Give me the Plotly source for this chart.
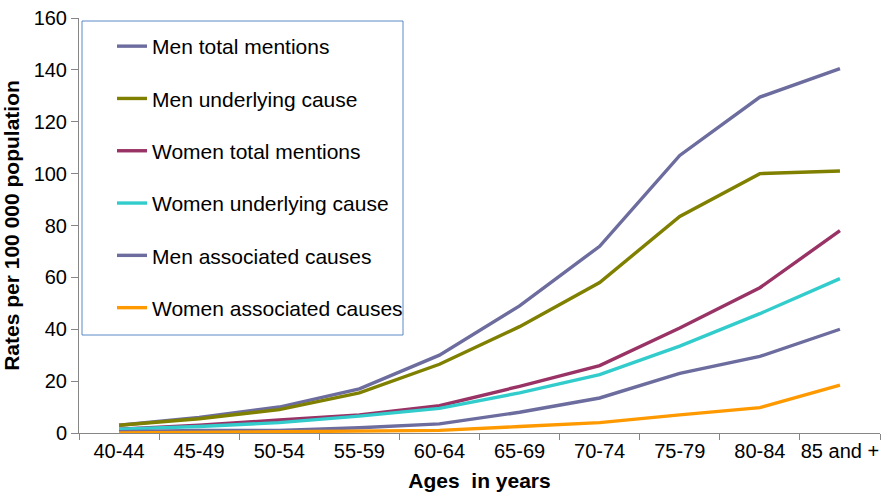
import plotly.graph_objects as go

ages = ["40-44", "45-49", "50-54", "55-59", "60-64", "65-69", "70-74", "75-79", "80-84", "85 and +"]

men_total = [3, 6, 10, 17, 30, 49, 72, 107, 129.5, 140.5]
men_underlying = [3, 5.5, 9, 15.5, 26.5, 41, 58, 83.5, 100, 101]
women_total = [1.5, 3, 5, 7, 10.5, 18, 26, 40.5, 56, 78]
women_underlying = [1.5, 2.5, 4, 6.5, 9.5, 15.5, 22.5, 33.5, 46, 59.5]
men_associated = [0.5, 1, 1, 2, 3.5, 8, 13.5, 23, 29.5, 40]
women_associated = [0, 0.2, 0.3, 0.6, 1, 2.5, 4, 7, 9.8, 18.5]

series = [
    ("Men total mentions", men_total, "#6C6C9E"),
    ("Men underlying cause", men_underlying, "#808000"),
    ("Women total mentions", women_total, "#993366"),
    ("Women underlying cause", women_underlying, "#33CCCC"),
    ("Men associated causes", men_associated, "#6C6C9E"),
    ("Women associated causes", women_associated, "#FF9900"),
]

fig = go.Figure()
for i, (name, vals, col) in enumerate(series):
    fig.add_trace(go.Scatter(
        x=ages, y=vals, name=name, mode="lines",
        line=dict(color=col, width=3.4),
        legendgroup=f"g{i}",
    ))

font = "Liberation Sans, Arial, sans-serif"
W, H = 887, 495
# plot area in page pixels: x 79..880, y 18..433
L, R, T, B = 79, 887 - 880, 18, 495 - 433
pw, ph = W - L - R, H - T - B

def px_x(p):
    return (p - L) / pw

def px_y(p):
    return 1 - (p - T) / ph

# legend frame (box drawn in paper coordinates)
fig.add_shape(type="rect", xref="paper", yref="paper",
              x0=px_x(82), x1=px_x(403), y0=px_y(335), y1=px_y(21),
              line=dict(color="#5B8AC6", width=1), fillcolor="white", layer="below")

fig.update_layout(
    width=W, height=H,
    margin=dict(l=L, r=R, t=T, b=B),
    paper_bgcolor="white", plot_bgcolor="white",
    font=dict(family=font, size=20, color="black"),
    showlegend=True,
    legend=dict(
        x=px_x(112), y=px_y(26), xanchor="left", yanchor="top",
        bgcolor="rgba(0,0,0,0)", borderwidth=0,
        font=dict(family=font, size=21, color="black"),
        tracegroupgap=22,
    ),
    xaxis=dict(
        type="category", range=[-0.5, 9.5], automargin=False,
        tickson="boundaries", ticks="outside", ticklen=6, tickcolor="#868686",
        showline=True, linecolor="#868686", linewidth=1,
        showgrid=False, zeroline=False, tickangle=0,
        tickfont=dict(size=20),
        title=dict(text="<b>Ages  in years</b>", font=dict(size=21), standoff=12),
    ),
    yaxis=dict(
        range=[0, 160], tickvals=[0, 20, 40, 60, 80, 100, 120, 140, 160], automargin=False,
        ticks="outside", ticklen=7, tickcolor="#868686",
        showline=True, linecolor="#868686", linewidth=1,
        showgrid=False, zeroline=False,
        tickfont=dict(size=20),
        title=dict(text="<b>Rates per 100 000 population</b>", font=dict(size=21), standoff=16),
    ),
)

fig.write_html("out.html", config={"displayModeBar": False},
               post_script="document.body.style.margin='0px';")
